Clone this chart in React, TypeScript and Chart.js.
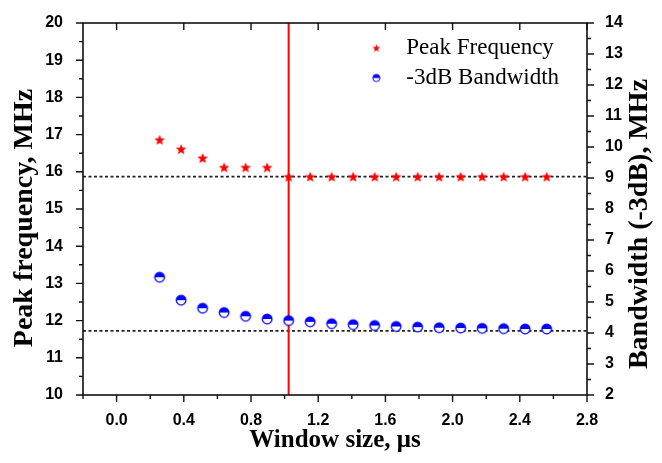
import React, { useEffect, useRef } from "react";
import { Chart, registerables } from "chart.js";

Chart.register(...registerables);

const windowSizes = [0.256, 0.384, 0.512, 0.64, 0.768, 0.896, 1.024, 1.152, 1.28, 1.408, 1.536, 1.664, 1.792, 1.92, 2.048, 2.176, 2.304, 2.432, 2.56];
const peakFrequency = [16.86, 16.61, 16.37, 16.12, 16.12, 16.12, 15.87, 15.87, 15.87, 15.87, 15.87, 15.87, 15.87, 15.87, 15.87, 15.87, 15.87, 15.87, 15.87];
const bandwidth = [5.8, 5.06, 4.8, 4.66, 4.54, 4.45, 4.4, 4.36, 4.3, 4.27, 4.24, 4.21, 4.19, 4.17, 4.16, 4.15, 4.14, 4.13, 4.13];
const xTicks = [0, 0.4, 0.8, 1.2, 1.6, 2.0, 2.4, 2.8];
const leftTicks = [10, 11, 12, 13, 14, 15, 16, 17, 18, 19, 20];
const rightTicks = [2, 3, 4, 5, 6, 7, 8, 9, 10, 11, 12, 13, 14];
const selectedWindow = 1.024;
const peakRefLine = 15.87;
const bandwidthRefLine = 4.07;
const seriesLabels = ["Peak Frequency", "-3dB Bandwidth"];
const xTitle = "Window size, μs";
const leftTitle = "Peak frequency, MHz";
const rightTitle = "Bandwidth (-3dB), MHz";

function makeStar(scale: number): HTMLCanvasElement {
  const s = Math.ceil(12 * scale) + 2;
  const c = document.createElement("canvas");
  c.width = s;
  c.height = s;
  const ctx = c.getContext("2d")!;
  const cx = s / 2, cy = s / 2 + 0.5 * scale;
  const R = 5.6 * scale, r = 2.4 * scale;
  ctx.beginPath();
  for (let i = 0; i < 10; i++) {
    const a = -Math.PI / 2 + (i * Math.PI) / 5;
    const rad = i % 2 === 0 ? R : r;
    const px = cx + rad * Math.cos(a), py = cy + rad * Math.sin(a);
    if (i === 0) ctx.moveTo(px, py); else ctx.lineTo(px, py);
  }
  ctx.closePath();
  ctx.fillStyle = "#ff0000";
  ctx.fill();
  return c;
}

function makeHalfCircle(scale: number): HTMLCanvasElement {
  const s = Math.ceil(12 * scale) + 2;
  const c = document.createElement("canvas");
  c.width = s;
  c.height = s;
  const ctx = c.getContext("2d")!;
  const cx = s / 2, cy = s / 2, r = 4.8 * scale;
  ctx.beginPath();
  ctx.arc(cx, cy, r, 0, Math.PI * 2);
  ctx.fillStyle = "#ffffff";
  ctx.fill();
  ctx.beginPath();
  ctx.arc(cx, cy, r, Math.PI, Math.PI * 2);
  ctx.closePath();
  ctx.fillStyle = "#0000ff";
  ctx.fill();
  ctx.beginPath();
  ctx.arc(cx, cy, r, 0, Math.PI * 2);
  ctx.strokeStyle = "#0000ff";
  ctx.lineWidth = 1.3 * scale;
  ctx.stroke();
  return c;
}

export default function App() {
  const ref = useRef<HTMLCanvasElement | null>(null);
  useEffect(() => {
    if (!ref.current) return;
    const starImg = makeStar(1);
    const circImg = makeHalfCircle(1);
    const starLegend = makeStar(0.75);
    const circLegend = makeHalfCircle(0.75);

    const decor = {
      id: "decor",
      beforeDatasetsDraw(chart: any) {
        const { ctx, chartArea } = chart;
        const x = chart.scales.x, yl = chart.scales.y, yr = chart.scales.y2;
        ctx.save();
        ctx.strokeStyle = "#222";
        ctx.lineWidth = 1.6;
        ctx.setLineDash([3, 2.5]);
        const p1 = yl.getPixelForValue(peakRefLine);
        ctx.beginPath();
        ctx.moveTo(chartArea.left, p1);
        ctx.lineTo(chartArea.right, p1);
        ctx.stroke();
        const p2 = yr.getPixelForValue(bandwidthRefLine);
        ctx.beginPath();
        ctx.moveTo(chartArea.left, p2);
        ctx.lineTo(chartArea.right, p2);
        ctx.stroke();
        ctx.setLineDash([]);
        ctx.strokeStyle = "#ff0000";
        ctx.lineWidth = 2;
        const vx = x.getPixelForValue(selectedWindow);
        ctx.beginPath();
        ctx.moveTo(vx, chartArea.top);
        ctx.lineTo(vx, chartArea.bottom);
        ctx.stroke();
        ctx.restore();
      },
      afterDraw(chart: any) {
        const { ctx, chartArea } = chart;
        const { left, right, top, bottom } = chartArea;
        const x = chart.scales.x, yl = chart.scales.y, yr = chart.scales.y2;
        ctx.save();
        ctx.strokeStyle = "#111";
        ctx.lineWidth = 1.6;
        ctx.strokeRect(left, top, right - left, bottom - top);
        ctx.lineWidth = 1.4;
        const major = 7, minor = 4;
        ctx.beginPath();
        for (let v = x.min; v <= x.max + 1e-9; v += 0.2) {
          const isMajor = Math.abs(Math.round(v / 0.4) * 0.4 - v) < 1e-6;
          const px = x.getPixelForValue(v);
          const len = isMajor ? major : minor;
          ctx.moveTo(px, bottom);
          ctx.lineTo(px, bottom + len);
          if (isMajor) {
            ctx.moveTo(px, top);
            ctx.lineTo(px, top + major);
          }
        }
        for (let v = yl.min; v <= yl.max + 1e-9; v += 0.5) {
          const isMajor = Math.abs(Math.round(v) - v) < 1e-6;
          const py = yl.getPixelForValue(v);
          ctx.moveTo(left, py);
          ctx.lineTo(left - (isMajor ? major : minor), py);
        }
        for (let v = yr.min; v <= yr.max + 1e-9; v += 0.5) {
          const isMajor = Math.abs(Math.round(v) - v) < 1e-6;
          const py = yr.getPixelForValue(v);
          ctx.moveTo(right, py);
          ctx.lineTo(right + (isMajor ? major : minor), py);
        }
        ctx.stroke();

        // axis titles
        ctx.fillStyle = "#000";
        ctx.textAlign = "center";
        ctx.textBaseline = "middle";
        ctx.font = "bold 25px 'Liberation Serif'";
        ctx.fillText(xTitle, (left + right) / 2, bottom + 46);
        const midY = (top + bottom) / 2 + 9;
        ctx.font = "bold 28px 'Liberation Serif'";
        ctx.save();
        ctx.translate(left - 58, midY);
        ctx.rotate(-Math.PI / 2);
        ctx.fillText(leftTitle, 0, 0);
        ctx.restore();
        ctx.save();
        ctx.translate(right + 53, midY + 6);
        ctx.rotate(-Math.PI / 2);
        ctx.fillText(rightTitle, 0, 0);
        ctx.restore();

        // legend
        const lx = left + (right - left) * 0.582;
        const ly = top + 25;
        const imgs = [starLegend, circLegend];
        ctx.font = "23px 'Liberation Serif'";
        ctx.textAlign = "left";
        chart.data.datasets.forEach((ds: any, i: number) => {
          const yy = ly + i * 30;
          const im = imgs[i];
          ctx.drawImage(im, lx - im.width / 2, yy - im.height / 2);
          ctx.fillText(ds.label, lx + 30, yy);
        });
        ctx.restore();
      },
    };

    const tickFont = { family: "'Liberation Sans', Arial", size: 16, weight: "bold" as const };

    const chart = new Chart(ref.current, {
      type: "scatter",
      data: {
        datasets: [
          {
            label: seriesLabels[0],
            data: windowSizes.map((w, i) => ({ x: w, y: peakFrequency[i] })),
            yAxisID: "y",
            pointStyle: starImg as any,
            pointRadius: 6,
          },
          {
            label: seriesLabels[1],
            data: windowSizes.map((w, i) => ({ x: w, y: bandwidth[i] })),
            yAxisID: "y2",
            pointStyle: circImg as any,
            pointRadius: 6,
          },
        ],
      },
      options: {
        responsive: false,
        animation: false,
        layout: { padding: { top: 23, left: 0, right: 0, bottom: 0 } },
        plugins: { legend: { display: false }, tooltip: { enabled: false } },
        scales: {
          x: {
            type: "linear",
            min: -0.2,
            max: 2.8,
            afterBuildTicks: (s: any) => { s.ticks = xTicks.map((v) => ({ value: v })); },
            afterFit: (s: any) => { s.height = 68; },
            grid: { display: false },
            border: { display: false },
            ticks: { font: tickFont, color: "#000", padding: 8, maxRotation: 0, callback: (v: any) => Number(v).toFixed(1) },
          },
          y: {
            type: "linear",
            position: "left",
            min: 10,
            max: 20,
            afterBuildTicks: (s: any) => { s.ticks = leftTicks.map((v) => ({ value: v })); },
            afterFit: (s: any) => { s.width = 83; },
            grid: { display: false },
            border: { display: false },
            ticks: { font: tickFont, color: "#000", padding: 12 },
          },
          y2: {
            type: "linear",
            position: "right",
            min: 2,
            max: 14,
            afterBuildTicks: (s: any) => { s.ticks = rightTicks.map((v) => ({ value: v })); },
            afterFit: (s: any) => { s.width = 75; },
            grid: { display: false },
            border: { display: false },
            ticks: { font: tickFont, color: "#000", padding: 10 },
          },
        },
      },
      plugins: [decor],
    });
    return () => chart.destroy();
  }, []);

  return (
    <div style={{ position: "fixed", left: 0, top: 0, width: 662, height: 463, background: "#fff" }}>
      <canvas ref={ref} width={662} height={463} style={{ display: "block" }} />
    </div>
  );
}
